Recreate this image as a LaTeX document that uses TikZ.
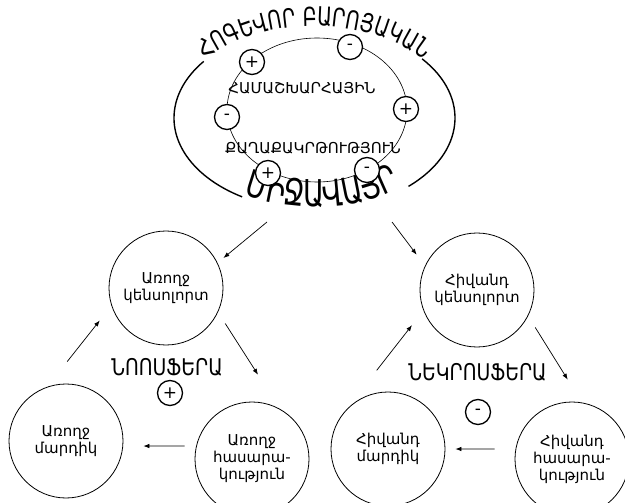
\documentclass[tikz,border=0pt]{standalone}
\usepackage{fontspec}
\usepackage{graphicx}
\newfontfamily\armfont{DejaVu Sans}
\usetikzlibrary{arrows.meta,decorations.text}

\tikzset{
	bubble/.style={circle, draw, line width=0.8pt, minimum size=114pt, inner sep=0pt, align=center, font=\armfont\fontsize{15}{17}\selectfont},
	sign/.style={circle, draw, line width=1.3pt, fill=white, minimum size=25pt, inner sep=0pt, font=\armfont\fontsize{17}{17}\selectfont},
	conn/.style={line width=0.7pt, -{Latex[length=6pt,width=4.5pt]}},
	sphere/.style={font=\armfont\fontsize{23}{23}\selectfont},
	inword/.style={font=\armfont\fontsize{15}{15}\selectfont},
	arcword/.style={font=\armfont\fontsize{#1}{#1}\selectfont, xscale=0.74, inner xsep=0pt}
}

\begin{document}
\begin{tikzpicture}[x=1pt,y=1pt]
		\useasboundingbox (0,0) rectangle (625,-503);
		\coordinate (oc) at (314.5,-118);
		%draw outer ellipse, open where the texts sit on it
		\draw[line width=1.4pt] ([shift={(40:140.5pt and 92pt)}]oc) arc[start angle=40, end angle=-48, x radius=140.5pt, y radius=92pt];
		\draw[line width=1.4pt] ([shift={(142:140.5pt and 92pt)}]oc) arc[start angle=142, end angle=239, x radius=140.5pt, y radius=92pt];
		%texts along the outer ellipse
		\path[decorate, decoration={text effects along path, text={ՀՈԳԵՎՈՐ ԲԱՐՈՅԱԿԱՆ}, text align=center,
			text effects/.cd, text along path, every character/.style={arcword=26}, character widths={arcword=26}}]
			([shift={(165:140.5pt and 92pt)}]oc) arc[start angle=165, end angle=15, x radius=140.5pt, y radius=92pt];
		\path[decorate, decoration={text effects along path, text={ՄԻՋԱՎԱՅՐ}, text align=center, raise=3pt,
			text effects/.cd, text along path, every character/.style={arcword=37}, character widths={arcword=37}}]
			([shift={(205:140.5pt and 92pt)}]oc) arc[start angle=205, end angle=345, x radius=140.5pt, y radius=92pt];
		%draw inner ellipse
		\draw[line width=0.6pt] (317,-110) ellipse[x radius=90pt, y radius=72pt];
		\node[inword] (glob) at (302,-88) {ՀԱՄԱՇԽԱՐՀԱՅԻՆ};
		\node[inword] (civ) at (313,-148) {ՔԱՂԱՔԱԿՐԹՈՒԹՅՈՒՆ};
		%draw signs on the inner ellipse
		\foreach \px/\py/\s/\n in {252/62/+/1, 350/47/-/2, 406/109/+/3, 227/117/-/4, 268/173/+/5, 367/170/-/6}{
			\node[sign] (s\n) at (\px,-\py) {\s};
		}
		%draw circles
		\node[bubble] (a1) at (166,-288) {Առողջ\\կենսոլորտ};
		\node[bubble] (a2) at (252,-459) {Առողջ\\հասարա-\\կություն};
		\node[bubble] (a3) at (66,-441) {Առողջ\\մարդիկ};
		\node[bubble] (h1) at (477,-290) {Հիվանդ\\կենսոլորտ};
		\node[bubble] (h2) at (572,-459) {Հիվանդ\\հասարա-\\կություն};
		\node[bubble] (h3) at (388,-449) {Հիվանդ\\մարդիկ};
		%draw sphere names
		\node[sphere] (noo) at (167,-367) {\scalebox{0.82}[1]{ՆՈՈՍՖԵՐԱ}};
		\node[sign] (noop) at (170,-393) {+};
		\node[sphere] (nek) at (477.5,-372) {\scalebox{0.82}[1]{ՆԵԿՐՈՍՖԵՐԱ}};
		\node[sign] (nekm) at (478,-412) {-};
		%draw arrows
		\coordinate (topl) at (267,-222);
		\coordinate (topr) at (392,-222);
		\draw[conn, shorten >=7.6pt] (topl) -- (a1.26);
		\draw[conn, shorten >=13.8pt] (topr) -- (h1.155);
		\draw[conn, shorten <=13.4pt, shorten >=40.5pt] (a1.-25) -- (a2.61);
		\draw[conn, shorten <=11.5pt, shorten >=20.2pt] (a2.167) -- (a3.-5);
		\draw[conn, shorten <=32.1pt, shorten >=18.8pt] (a3.109) -- (a1.198);
		\draw[conn, shorten <=13.4pt, shorten >=27pt] (h1.-27) -- (h2.80);
		\draw[conn, shorten <=20.9pt, shorten >=10pt] (h2.170) -- (h3.0);
		\draw[conn, shorten <=58pt, shorten >=18.6pt] (h3.145) -- (h1.201);
\end{tikzpicture}
\end{document}
